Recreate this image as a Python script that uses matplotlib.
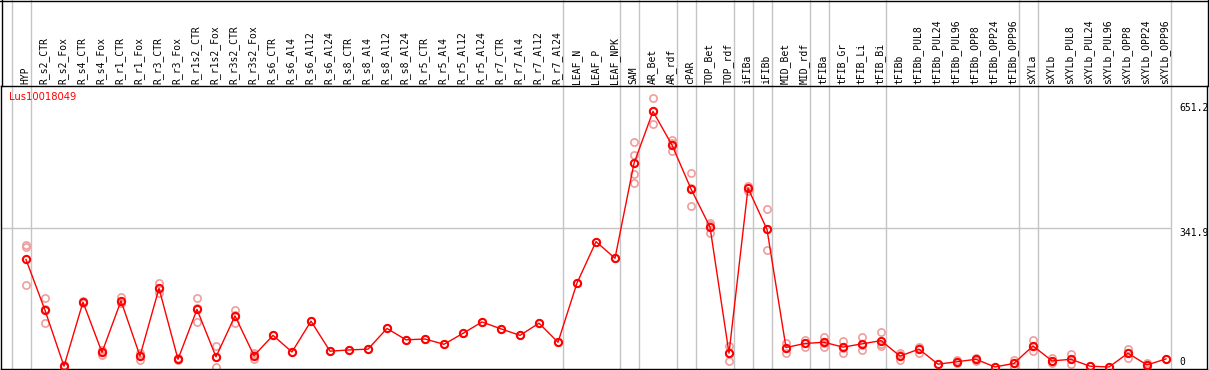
import numpy as np
import matplotlib
matplotlib.use('Agg')
import matplotlib.pyplot as plt
import matplotlib.transforms as mtransforms
from matplotlib.lines import Line2D

# ── Données ───────────────────────────────────────────────────────────────────

gene = 'Lus10018049'

categories = [
    'HYP',
    'R_s2_CTR', 'R_s2_Fox', 'R_s4_CTR', 'R_s4_Fox', 'R_r1_CTR', 'R_r1_Fox',
    'R_r3_CTR', 'R_r3_Fox', 'R_r1s2_CTR', 'R_r1s2_Fox', 'R_r3s2_CTR', 'R_r3s2_Fox',
    'R_s6_CTR', 'R_s6_Al4', 'R_s6_Al12', 'R_s6_Al24',
    'R_s8_CTR', 'R_s8_Al4', 'R_s8_Al12', 'R_s8_Al24',
    'R_r5_CTR', 'R_r5_Al4', 'R_r5_Al12', 'R_r5_Al24',
    'R_r7_CTR', 'R_r7_Al4', 'R_r7_Al12', 'R_r7_Al24',
    'LEAF_N', 'LEAF_P', 'LEAF_NPK',
    'SAM', 'AR_Bet', 'AR_rdf', 'cPAR', 'TOP_Bet', 'TOP_rdf',
    'iFIBa', 'iFIBb', 'MID_Bet', 'MID_rdf',
    'tFIBa', 'tFIB_Gr', 'tFIB_Li', 'tFIB_Bi', 'tFIBb',
    'tFIBb_PUL8', 'tFIBb_PUL24', 'tFIBb_PUL96', 'tFIBb_OPP8', 'tFIBb_OPP24', 'tFIBb_OPP96',
    'sXYLa', 'sXYLb',
    'sXYLb_PUL8', 'sXYLb_PUL24', 'sXYLb_PUL96', 'sXYLb_OPP8', 'sXYLb_OPP24', 'sXYLb_OPP96',
]

means = [
    265,
    140, 2, 160, 36, 163, 27, 194, 19, 142, 25, 126, 28,
    78, 37, 113, 39, 42, 44, 95, 67, 69, 56, 83, 111, 94, 78, 108, 61,
    207, 309, 268,
    502, 630, 547, 439, 345, 34,
    441, 339, 48, 58,
    61, 49, 57, 65, 27,
    44, 7, 13, 19, 0, 9,
    52, 15,
    19, 2, 0, 34, 5, 20,
]

replicates = [
    [300, 295, 202],
    [169, 144, 108], [0, 5, 2], [160, 162, 158], [42, 37, 30], [173, 158, 157], [34, 30, 17],
    [208, 192, 182], [21, 19, 17], [169, 145, 112], [52, 24, 0], [140, 127, 109], [34, 31, 19],
    [78], [37], [113], [39], [42], [44], [95], [67],
    [69], [56], [83], [111], [94], [78], [108], [61],
    [207], [309], [268],
    [554, 522, 475, 453], [663, 630, 598], [560, 551, 533], [477, 442, 397],
    [356, 349, 331], [52, 34, 15],
    [446, 441, 435], [389, 341, 288], [60, 48, 35], [67, 58, 50],
    [75, 60, 49], [64, 48, 34], [73, 55, 42], [86, 56, 52], [35, 29, 17],
    [50, 47, 34], [7], [17, 13, 9], [23, 19, 15], [0], [17, 10, 0],
    [67, 51, 40], [21, 15, 9],
    [32, 19, 7], [2], [0], [44, 35, 21], [11, 5, 0], [20],
]

# séparateurs de groupes : ligne verticale après ces indices
separators = [-1, 0, 28, 31, 32, 34, 35, 37, 38, 39, 41, 42, 45, 52, 53, 60]

y_labels = [651.2, 341.9]

# ── Figure ────────────────────────────────────────────────────────────────────

W, H = 1209, 370
PX = 0.4057          # pixels par unité
STEP = 19            # pixels entre deux catégories
X0 = 26              # pixel de la première catégorie
Y0 = 367             # pixel de la valeur 0
TOP, BOT = 86, 369   # bords haut / bas de la zone de tracé

fig = plt.figure(figsize=(W / 100, H / 100), dpi=100)
ax = fig.add_axes([1 / W, (H - BOT) / H, 1206 / W, (BOT - TOP) / H])

ax.set_xlim((1 - X0) / STEP, (1207 - X0) / STEP)
ax.set_ylim((Y0 - BOT) / PX, (Y0 - TOP) / PX)
ax.set_xticks([])
ax.set_yticks([])
for sp in ax.spines.values():
    sp.set_color('black')
    sp.set_linewidth(1)

grid_c = '#c4c4c4'
head = 1 + TOP / (BOT - TOP)
for s in separators:
    ax.axvline(s + 0.26, ymin=0, ymax=head, color=grid_c, lw=1, clip_on=False, zorder=0)
ax.hlines(y_labels[1], ax.get_xlim()[0], separators[-1] + 0.26, color=grid_c, lw=1, zorder=0)

# réplicats
for i, reps in enumerate(replicates):
    ax.plot([i] * len(reps), reps, 'o', mfc='none', mec='#f19c9c', ms=5.2, mew=1.2, zorder=2)

# moyenne
x = np.arange(len(categories))
ax.plot(x, means, '-', color='red', lw=1, zorder=3)
ax.plot(x, means, 'o', mfc='none', mec='red', ms=5.2, mew=1.5, zorder=4)

# ── Textes ────────────────────────────────────────────────────────────────────

for i, c in enumerate(categories):
    ax.text(i - 0.05, 1 + 2 / (BOT - TOP), c, transform=ax.get_xaxis_transform(),
            rotation=90, ha='center', va='bottom', fontsize=7, family='DejaVu Sans Mono')

ax.text(8 / 1206, (BOT - 97) / (BOT - TOP), gene, transform=ax.transAxes,
        color='red', ha='left', va='center', fontsize=7.2, family='DejaVu Sans')

trans = mtransforms.blended_transform_factory(ax.transAxes, ax.transData)
xr = (1179 - 1) / 1206
for v in y_labels:
    ax.text(xr, v, f'{v}', transform=trans, ha='left', va='top',
            fontsize=7, family='DejaVu Sans Mono')
ax.text(xr, 0, '0', transform=trans, ha='left', va='bottom',
        fontsize=7, family='DejaVu Sans Mono')

# bordure de l'en-tête
ft = fig.transFigure
yh = (H - TOP) / H
fig.add_artist(Line2D([1.5 / W, 1.5 / W], [yh, 1], transform=ft, color='black', lw=1))
fig.add_artist(Line2D([1207.5 / W, 1207.5 / W], [yh, 1], transform=ft, color='black', lw=1))
fig.add_artist(Line2D([0, 1], [1 - 0.5 / H, 1 - 0.5 / H], transform=ft, color='black', lw=1))

fig.savefig('out.png', dpi=100)
